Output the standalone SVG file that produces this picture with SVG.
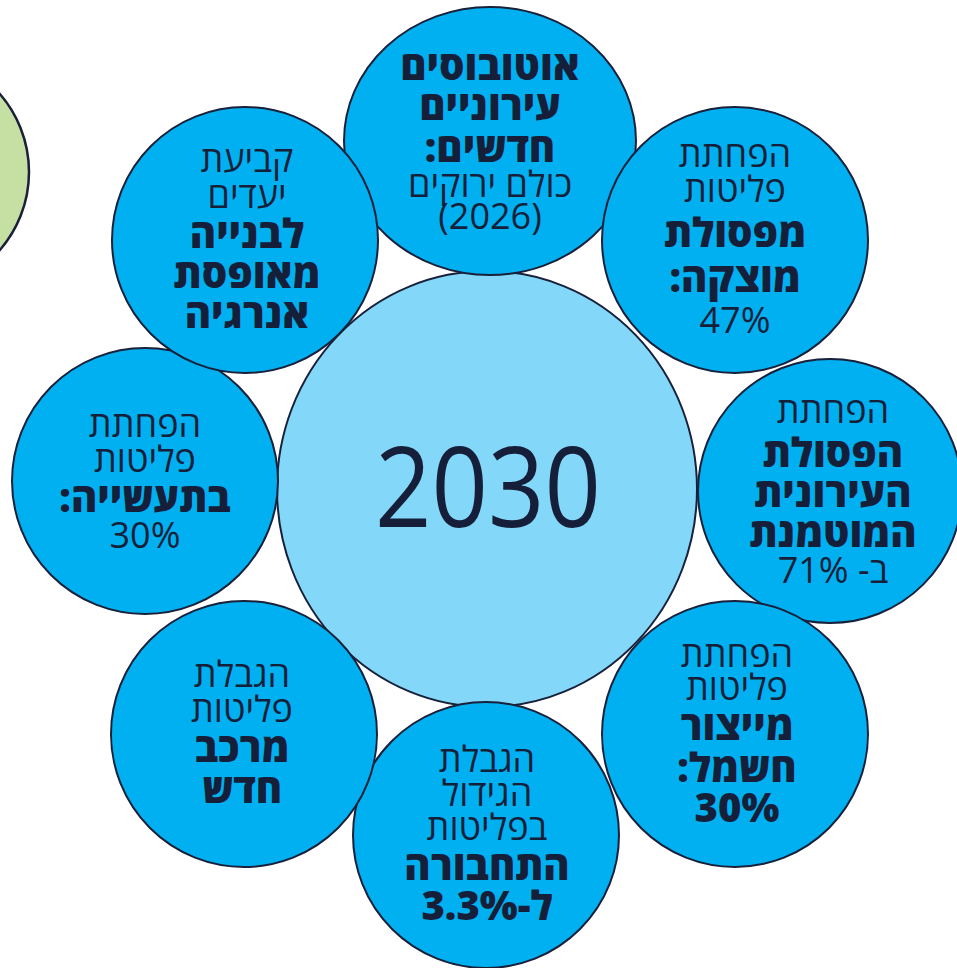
<svg xmlns="http://www.w3.org/2000/svg" width="957" height="968" viewBox="0 0 957 968">
<style>
.sat{fill:#00B0F0;stroke:#18203A;stroke-width:2}
.hub{fill:#83D7F8;stroke:#18203A;stroke-width:2}
.grn{fill:#C6E0A4;stroke:#18203A;stroke-width:2.5}
text{font-family:"Open Sans","DejaVu Sans",sans-serif;fill:#161F3A;text-anchor:middle;direction:rtl}
.r{font-size:36px;font-weight:400}
.b{font-size:40px;font-weight:800}
.big{font-size:112px;font-weight:400;direction:ltr}
</style>
<rect width="957" height="968" fill="#FFFFFF"/>
<g id="green-partial"><circle class="grn" cx="-90" cy="172" r="119"/></g>
<g id="center-2030">
<ellipse class="hub" cx="487" cy="489" rx="210" ry="218"/>
<text class="big" x="488" y="527" textLength="226" lengthAdjust="spacingAndGlyphs">2030</text>
</g>
<g id="node-top">
<ellipse class="sat" cx="490" cy="141" rx="146" ry="134"/>
<text class="b" x="490" y="80">אוטובוסים</text>
<text class="b" x="490" y="120">עירוניים</text>
<text class="b" x="490" y="162">חדשים:</text>
<text class="r" x="490" y="197">כולם ירוקים</text>
<text class="r" x="490" y="229">(2026)</text>
</g>
<g id="node-top-right">
<circle class="sat" cx="735" cy="240" r="133"/>
<text class="r" x="735" y="167">הפחתת</text>
<text class="r" x="735" y="202">פליטות</text>
<text class="b" x="735" y="247">מפסולת</text>
<text class="b" x="735" y="292">מוצקה:</text>
<text class="r" x="735" y="333">47%</text>
</g>
<g id="node-right">
<circle class="sat" cx="830" cy="491" r="132"/>
<text class="r" x="833" y="423">הפחתת</text>
<text class="b" x="833" y="467">הפסולת</text>
<text class="b" x="833" y="507">העירונית</text>
<text class="b" x="833" y="547">המוטמנת</text>
<text class="r" x="833" y="583">ב- 71%</text>
</g>
<g id="node-bottom-right">
<circle class="sat" cx="735" cy="734" r="133"/>
<text class="r" x="737" y="667">הפחתת</text>
<text class="r" x="737" y="700">פליטות</text>
<text class="b" x="737" y="740">מייצור</text>
<text class="b" x="737" y="782">חשמל:</text>
<text class="b" x="737" y="822">30%</text>
</g>
<g id="node-bottom">
<circle class="sat" cx="486" cy="835" r="133"/>
<text class="r" x="487" y="772">הגבלת</text>
<text class="r" x="487" y="806">הגידול</text>
<text class="r" x="487" y="840">בפליטות</text>
<text class="b" x="487" y="880">התחבורה</text>
<text class="b" x="487" y="920">ל-3.3%</text>
</g>
<g id="node-bottom-left">
<circle class="sat" cx="244" cy="734" r="133"/>
<text class="r" x="242" y="687">הגבלת</text>
<text class="r" x="242" y="722">פליטות</text>
<text class="b" x="242" y="762">מרכב</text>
<text class="b" x="242" y="803">חדש</text>
</g>
<g id="node-left">
<circle class="sat" cx="145" cy="481" r="133"/>
<text class="r" x="145" y="437">הפחתת</text>
<text class="r" x="145" y="472">פליטות</text>
<text class="b" x="145" y="512">בתעשייה:</text>
<text class="r" x="145" y="548">30%</text>
</g>
<g id="node-top-left">
<circle class="sat" cx="245" cy="240" r="133"/>
<text class="r" x="247" y="172">קביעת</text>
<text class="r" x="247" y="208">יעדים</text>
<text class="b" x="247" y="248">לבנייה</text>
<text class="b" x="247" y="288">מאופסת</text>
<text class="b" x="247" y="328">אנרגיה</text>
</g>
<g id="connectors"></g>
</svg>
